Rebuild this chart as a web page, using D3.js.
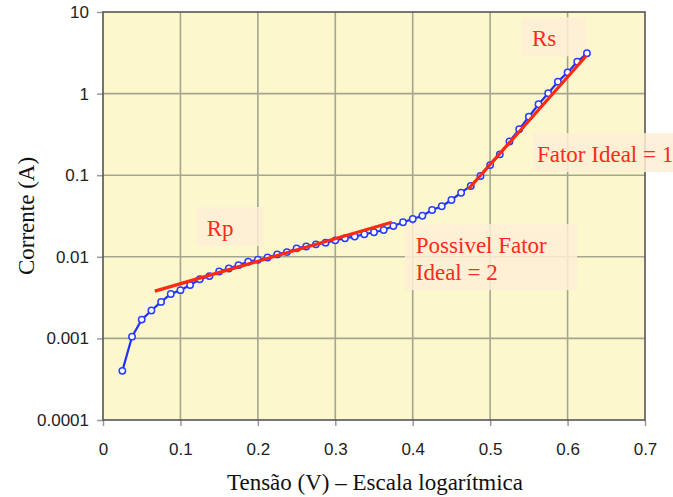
<!DOCTYPE html>
<html>
<head>
<meta charset="utf-8">
<script src="https://cdn.jsdelivr.net/npm/d3@7"></script>
<style>
  html, body { margin: 0; padding: 0; background: #ffffff; }
  svg { display: block; }
</style>
</head>
<body>
<svg id="chart" width="673" height="497"></svg>
<script>
// ---- data ----
const voltage = [0.025,0.0375,0.05,0.0625,0.075,0.0875,0.1,0.1125,0.125,0.1375,0.15,0.1625,0.175,0.1875,0.2,0.2125,0.225,0.2375,0.25,0.2625,0.275,0.2875,0.3,0.3125,0.325,0.3375,0.35,0.3625,0.375,0.3875,0.4,0.4125,0.425,0.4375,0.45,0.4625,0.475,0.4875,0.5,0.5125,0.525,0.5375,0.55,0.5625,0.575,0.5875,0.6,0.6125,0.625];
const current = [0.0004,0.00105,0.0017,0.0022,0.0028,0.0035,0.0039,0.0045,0.0053,0.0058,0.0066,0.0072,0.0079,0.0087,0.0092,0.0098,0.0107,0.0114,0.0127,0.0134,0.0142,0.0149,0.0159,0.0169,0.0177,0.0189,0.0200,0.0213,0.0238,0.0265,0.0290,0.0319,0.0375,0.0416,0.0497,0.0610,0.0738,0.0978,0.133,0.180,0.259,0.365,0.521,0.740,1.01,1.40,1.82,2.46,3.12];
const rpLineV = [0.067, 0.373];
const rpLineI = [0.0038, 0.0265];
const rsLineV = [0.472, 0.624];
const rsLineI = [0.0678, 2.89];
const xTicks = [0, 0.1, 0.2, 0.3, 0.4, 0.5, 0.6, 0.7];
const xTickLabels = ["0", "0.1", "0.2", "0.3", "0.4", "0.5", "0.6", "0.7"];
const yTicks = [0.0001, 0.001, 0.01, 0.1, 1, 10];
const yTickLabels = ["0.0001", "0.001", "0.01", "0.1", "1", "10"];
const xTitle = "Tensão (V) – Escala logarítmica";
const yTitle = "Corrente (A)";
const noteText = [["Rp"], ["Rs"], ["Fator Ideal = 1"], ["Possivel Fator", "Ideal = 2"]];
const noteV = [0.134, 0.554, 0.5605, 0.404];   // text anchor positions (data units)
const noteI = [0.018, 3.8, 0.145, 0.0111];
const notePadLeft = [10, 10, 4, 11];

// ---- layout ----
const svg = d3.select("#chart");
const L = 103, R = 645, T = 12, B = 420;
const x = d3.scaleLinear().domain([0, 0.7]).range([L, R]);
const y = d3.scaleLog().domain([0.0001, 10]).range([B, T]);

// plot background
svg.append("rect").attr("x", L).attr("y", T).attr("width", R - L).attr("height", B - T)
  .attr("fill", "#fcf7cd");

// grid
const gridColor = "#a6a590";
svg.append("g").selectAll("line").data(xTicks.slice(1, -1)).join("line")
  .attr("x1", d => x(d)).attr("x2", d => x(d)).attr("y1", T).attr("y2", B)
  .attr("stroke", gridColor).attr("stroke-width", 1.6);
svg.append("g").selectAll("line").data(yTicks.slice(1, -1)).join("line")
  .attr("x1", L).attr("x2", R).attr("y1", d => y(d)).attr("y2", d => y(d))
  .attr("stroke", gridColor).attr("stroke-width", 1.6);

// axes
const xAxis = d3.axisBottom(x).tickValues(xTicks).tickFormat((d, i) => xTickLabels[i])
  .tickSize(6).tickPadding(17);
const yAxis = d3.axisLeft(y).tickValues(yTicks).tickFormat((d, i) => yTickLabels[i])
  .tickSize(6).tickPadding(8);
const gx = svg.append("g").attr("transform", `translate(0,${B})`).call(xAxis);
const gy = svg.append("g").attr("transform", `translate(${L},0)`).call(yAxis);
[gx, gy].forEach(g => {
  g.select(".domain").remove();
  g.selectAll(".tick line").attr("stroke", "#9a9a9a").attr("stroke-width", 1.5);
  g.selectAll(".tick text").attr("fill", "#222").style("font-family", "'Liberation Sans', Arial, sans-serif")
    .style("font-size", "17px");
});

// frame
svg.append("rect").attr("x", L).attr("y", T).attr("width", R - L).attr("height", B - T)
  .attr("fill", "none").attr("stroke", "#555").attr("stroke-width", 1.6);

// annotation boxes + texts
const noteFont = "'Liberation Serif', 'Times New Roman', serif";
noteText.forEach((lines, i) => {
  const tx = x(noteV[i]), ty = y(noteI[i]);
  const g = svg.append("g");
  const rect = g.append("rect");
  const t = g.append("text").attr("x", tx).attr("y", ty)
    .attr("fill", "#ff2a1a").style("font-family", noteFont).style("font-size", "23px");
  lines.forEach((s, j) => t.append("tspan").attr("x", tx).attr("dy", j === 0 ? 0 : 27).text(s));
  const bb = t.node().getBBox();
  const lastBase = ty + 27 * (lines.length - 1);
  rect.attr("x", tx - notePadLeft[i]).attr("y", ty - 29)
    .attr("width", bb.width + notePadLeft[i] + 30).attr("height", lastBase + 10 - (ty - 29))
    .attr("fill", "#fdefd6").attr("opacity", 0.85);
});

// data line
const line = d3.line().x(d => x(d[0])).y(d => y(d[1]));
const pts = voltage.map((v, i) => [v, current[i]]);
svg.append("path").datum(pts).attr("d", line).attr("fill", "none")
  .attr("stroke", "#2030ff").attr("stroke-width", 2.2);

// markers
svg.append("g").selectAll("circle").data(pts).join("circle")
  .attr("cx", d => x(d[0])).attr("cy", d => y(d[1])).attr("r", 3.2)
  .attr("fill", "#ffffff").attr("stroke", "#2a3cff").attr("stroke-width", 1.5);

// red fit lines (on top)
[[rpLineV, rpLineI], [rsLineV, rsLineI]].forEach(([vv, ii]) => {
  svg.append("path").datum(vv.map((v, k) => [v, ii[k]])).attr("d", line)
    .attr("fill", "none").attr("stroke", "#ff2a10").attr("stroke-width", 3.2);
});

// axis titles
svg.append("text").attr("x", (L + R) / 2 + 1).attr("y", 490).attr("text-anchor", "middle")
  .attr("fill", "#111").style("font-family", noteFont).style("font-size", "23px").text(xTitle);
svg.append("text").attr("transform", `translate(34,216) rotate(-90)`).attr("text-anchor", "middle")
  .attr("fill", "#111").style("font-family", noteFont).style("font-size", "23px").text(yTitle);
</script>
</body>
</html>
